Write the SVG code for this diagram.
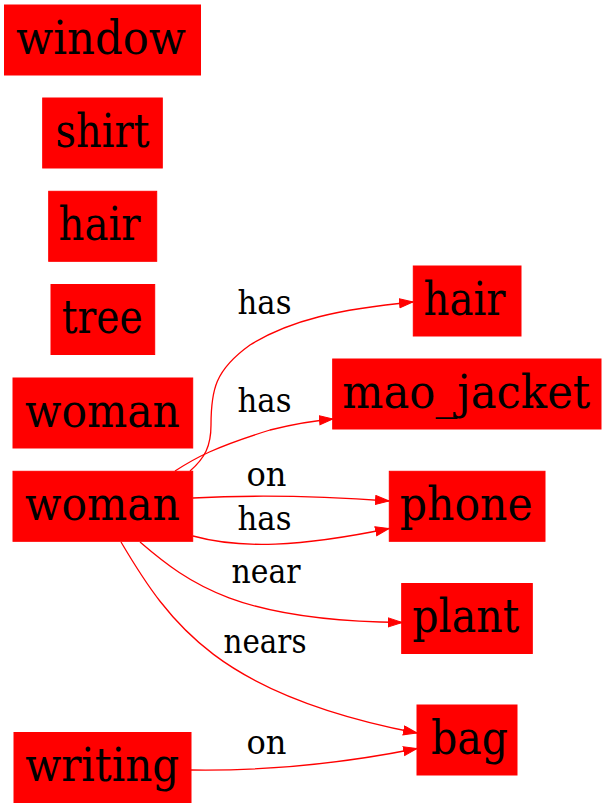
<svg xmlns="http://www.w3.org/2000/svg" width="607" height="808" viewBox="0 0 607 808">
<defs>
<style>
.node rect{fill:#ff0000;stroke:#ff0000;stroke-width:1}
.node text{font-family:"DejaVu Serif",serif;font-size:46px;fill:#000;text-anchor:middle}
.edges path{fill:none;stroke:#ff0000;stroke-width:1.3}
.edges text{font-family:"DejaVu Serif",serif;font-size:34px;fill:#000;text-anchor:middle}
</style>
<marker id="arr" markerUnits="userSpaceOnUse" markerWidth="15" markerHeight="11" refX="14" refY="5" orient="auto">
<path d="M0.5,0.5 L14,5 L0.5,9.5 z" fill="#ff0000" stroke="#ff0000" stroke-width="1"/>
</marker>
</defs>
<rect width="607" height="808" fill="#fff"/>
<g id="n_window" class="node"><rect x="4.5" y="5" width="196" height="70"/><text x="101" y="53.5" textLength="170" lengthAdjust="spacingAndGlyphs">window</text></g>
<g id="n_shirt" class="node"><rect x="42.7" y="98" width="119.6" height="70"/><text x="102.5" y="146.5" textLength="94" lengthAdjust="spacingAndGlyphs">shirt</text></g>
<g id="n_hair_l" class="node"><rect x="48.7" y="191.3" width="108" height="70"/><text x="99.5" y="239.8" textLength="82" lengthAdjust="spacingAndGlyphs">hair</text></g>
<g id="n_tree" class="node"><rect x="51" y="284.5" width="103.7" height="70"/><text x="102.2" y="333" textLength="81" lengthAdjust="spacingAndGlyphs">tree</text></g>
<g id="n_woman1" class="node"><rect x="13" y="378" width="179.7" height="70"/><text x="102.5" y="426.5" textLength="155" lengthAdjust="spacingAndGlyphs">woman</text></g>
<g id="n_woman2" class="node"><rect x="13" y="471.3" width="179.7" height="70"/><text x="102.5" y="519.8" textLength="155" lengthAdjust="spacingAndGlyphs">woman</text></g>
<g id="n_writing" class="node"><rect x="14" y="732.5" width="177" height="70"/><text x="102.2" y="781" textLength="154" lengthAdjust="spacingAndGlyphs">writing</text></g>
<g id="n_hair_r" class="node"><rect x="413.3" y="266" width="107.7" height="70"/><text x="464.5" y="314.5" textLength="82" lengthAdjust="spacingAndGlyphs">hair</text></g>
<g id="n_mao_jacket" class="node"><rect x="332.7" y="359" width="268.3" height="70"/><text x="466.3" y="407.5" textLength="248" lengthAdjust="spacingAndGlyphs">mao_jacket</text></g>
<g id="n_phone" class="node"><rect x="389.3" y="471.3" width="155.7" height="70"/><text x="466.2" y="519.8" textLength="133" lengthAdjust="spacingAndGlyphs">phone</text></g>
<g id="n_plant" class="node"><rect x="401.7" y="583.5" width="130.6" height="70"/><text x="465.8" y="632" textLength="107" lengthAdjust="spacingAndGlyphs">plant</text></g>
<g id="n_bag" class="node"><rect x="417" y="705" width="100" height="70"/><text x="469.5" y="753.5" textLength="77" lengthAdjust="spacingAndGlyphs">bag</text></g>
<g id="edges" class="edges">
<path d="M190,471 C205,458 211,446 211,425 C211,390 215,370 250,345 C290,320 340,309 413,302" marker-end="url(#arr)"/>
<text x="264.5" y="314" textLength="54" lengthAdjust="spacingAndGlyphs">has</text>
<path d="M175,471 C195,458 215,447 270,430 C290,425 310,421 333,419" marker-end="url(#arr)"/>
<text x="264.5" y="412" textLength="54" lengthAdjust="spacingAndGlyphs">has</text>
<path d="M193,498 C250,495 320,496 389,501" marker-end="url(#arr)"/>
<text x="266.5" y="486" textLength="40" lengthAdjust="spacingAndGlyphs">on</text>
<path d="M193,536 C240,549 300,547 389,528.5" marker-end="url(#arr)"/>
<text x="264.5" y="530" textLength="54" lengthAdjust="spacingAndGlyphs">has</text>
<path d="M140,542 C190,585 240,621 402,622.5" marker-end="url(#arr)"/>
<text x="266" y="583" textLength="69" lengthAdjust="spacingAndGlyphs">near</text>
<path d="M121,542 C170,625 220,695 417,733" marker-end="url(#arr)"/>
<text x="265" y="653" textLength="83" lengthAdjust="spacingAndGlyphs">nears</text>
<path d="M191,770 C260,771 330,766 417,748.5" marker-end="url(#arr)"/>
<text x="266.5" y="754" textLength="40" lengthAdjust="spacingAndGlyphs">on</text>
</g>
</svg>
